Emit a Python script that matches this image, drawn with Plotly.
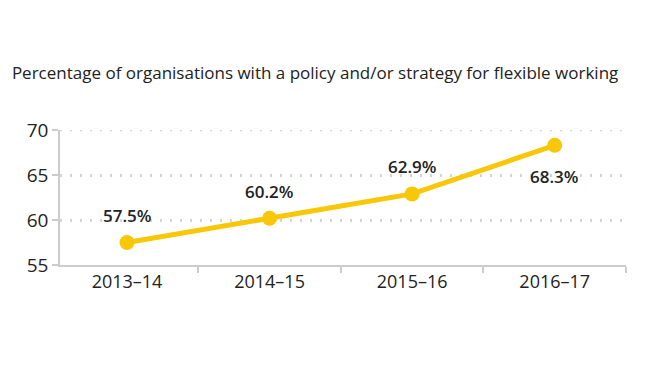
import plotly.graph_objects as go

categories = ["2013–14", "2014–15", "2015–16", "2016–17"]
values = [57.5, 60.2, 62.9, 68.3]
labels = ["57.5%", "60.2%", "62.9%", "68.3%"]
label_above = [True, True, True, False]
y_ticks = [55, 60, 65, 70]

title = "Percentage of organisations with a policy and/or strategy for flexible working"

YELLOW = "#F7C708"
FONT = "Open Sans"
GRID = "#d4d4d4"

fig = go.Figure()
fig.add_trace(go.Scatter(
    x=categories, y=values, mode="lines+markers",
    line=dict(color=YELLOW, width=5),
    marker=dict(color=YELLOW, size=15),
    cliponaxis=False, hoverinfo="skip",
))

for c, v, t, above in zip(categories, values, labels, label_above):
    fig.add_annotation(
        x=c, y=v, text=t, showarrow=False,
        yshift=27 if above else -31,
        font=dict(family=FONT, size=17, color="#222222", weight=600),
    )

# top gridline (plotly drops the one on the range edge)
fig.add_shape(type="line", xref="paper", x0=0, x1=1, yref="y",
              y0=y_ticks[-1], y1=y_ticks[-1],
              line=dict(color=GRID, width=2.5, dash="2px,8px"), layer="below")

fig.update_layout(
    width=650, height=366,
    margin=dict(l=52, r=32, t=122, b=109),
    paper_bgcolor="white", plot_bgcolor="white",
    showlegend=False,
    font=dict(family=FONT, color="#222222"),
    title=dict(text=title, x=0.006, xanchor="left", y=0.822, yanchor="middle",
               font=dict(family=FONT, size=17, color="#222222")),
)
fig.update_xaxes(
    type="category", tickson="boundaries", ticks="outside", ticklen=6,
    tickcolor="#cccccc", tickwidth=1.5,
    showline=True, linecolor="#cccccc", linewidth=1.5,
    showgrid=False, tickfont=dict(family=FONT, size=18, color="#222222"),
    range=[-0.47, 3.5],
)
fig.update_yaxes(
    range=[55, 70], tickvals=y_ticks, ticks="outside", ticklen=6,
    tickcolor="#cccccc", tickwidth=1.5,
    showline=True, linecolor="#cccccc", linewidth=1.5,
    showgrid=True, gridcolor=GRID, gridwidth=2.5, griddash="2px,8px",
    zeroline=False, tickfont=dict(family=FONT, size=19, color="#222222"),
)

fig.write_html("out.html")
